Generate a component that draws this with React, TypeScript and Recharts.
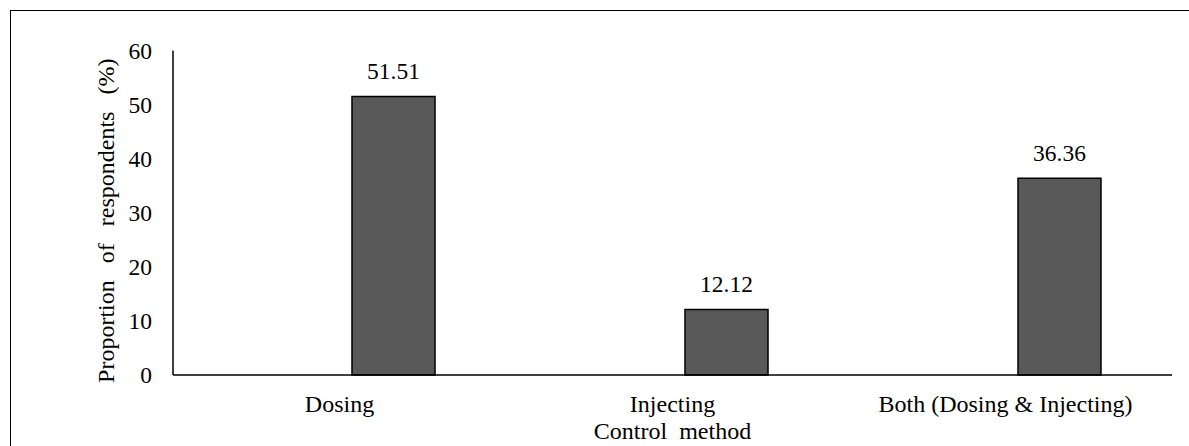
import React from 'react';
import { BarChart, Bar, XAxis, YAxis, LabelList, Label } from 'recharts';

const categories = ['Dosing', 'Injecting', 'Both (Dosing & Injecting)'];
const proportions = [51.51, 12.12, 36.36];
const yTicks = [0, 10, 20, 30, 40, 50, 60];
const xTitle = 'Control\u00a0 method';
const yTitle = 'Proportion of respondents (%)';

const data = categories.map((c, i) => ({ category: c, blank: null, value: proportions[i] }));

const FONT = 'Liberation Serif';
const FS = 24;
const NFS = 23.5;

const YTitle = (props: any) => {
  const vb = props.viewBox || {};
  const cx = vb.x + 106;
  const cy = vb.y + vb.height / 2 + 8;
  return (
    <text
      x={cx}
      y={cy}
      transform={`rotate(-90, ${cx}, ${cy})`}
      textAnchor="middle"
      dominantBaseline="central"
      fontFamily={FONT}
      fontSize={FS}
      wordSpacing={11}
      fill="#000"
    >
      {yTitle}
    </text>
  );
};

export default function App() {
  return (
    <div style={{ position: 'absolute', left: 0, top: 0, width: 1189, height: 446, overflow: 'hidden', background: '#fff' }}>
      <div
        style={{
          position: 'absolute',
          left: 9.5,
          top: 9.5,
          width: 1300,
          height: 600,
          borderLeft: '1.5px solid #000',
          borderTop: '1.5px solid #000',
          boxSizing: 'border-box',
        }}
      />
      <div style={{ position: 'absolute', left: 0, top: 0 }}>
        <BarChart
          width={1189}
          height={446}
          data={data}
          margin={{ top: 50.5, right: 17, left: 0, bottom: 0 }}
          barGap={24}
          barSize={83}
        >
          <XAxis
            dataKey="category"
            height={71}
            axisLine={{ stroke: '#000', strokeWidth: 1.5 }}
            tickLine={false}
            tickSize={0}
            tickMargin={20}
            tick={{ fill: '#000', fontFamily: FONT, fontSize: FS }}
            interval={0}
          >
            <Label
              value={xTitle}
              position="insideBottom"
              offset={7}
              fill="#000"
              fontFamily={FONT}
              fontSize={FS}
            />
          </XAxis>
          <YAxis
            width={173}
            domain={[0, 60]}
            ticks={yTicks}
            axisLine={{ stroke: '#000', strokeWidth: 1.5 }}
            tickLine={false}
            tickSize={0}
            tickMargin={21}
            tick={{ fill: '#000', fontFamily: FONT, fontSize: NFS }}
          >
            <Label content={<YTitle />} />
          </YAxis>
          <Bar dataKey="blank" fill="none" isAnimationActive={false} />
          <Bar dataKey="value" fill="#595959" stroke="#000" strokeWidth={1.5} isAnimationActive={false}>
            <LabelList
              dataKey="value"
              position="top"
              offset={17}
              fill="#000"
              fontFamily={FONT}
              fontSize={NFS}
              formatter={(v: any) => Number(v).toFixed(2)}
            />
          </Bar>
        </BarChart>
      </div>
    </div>
  );
}
